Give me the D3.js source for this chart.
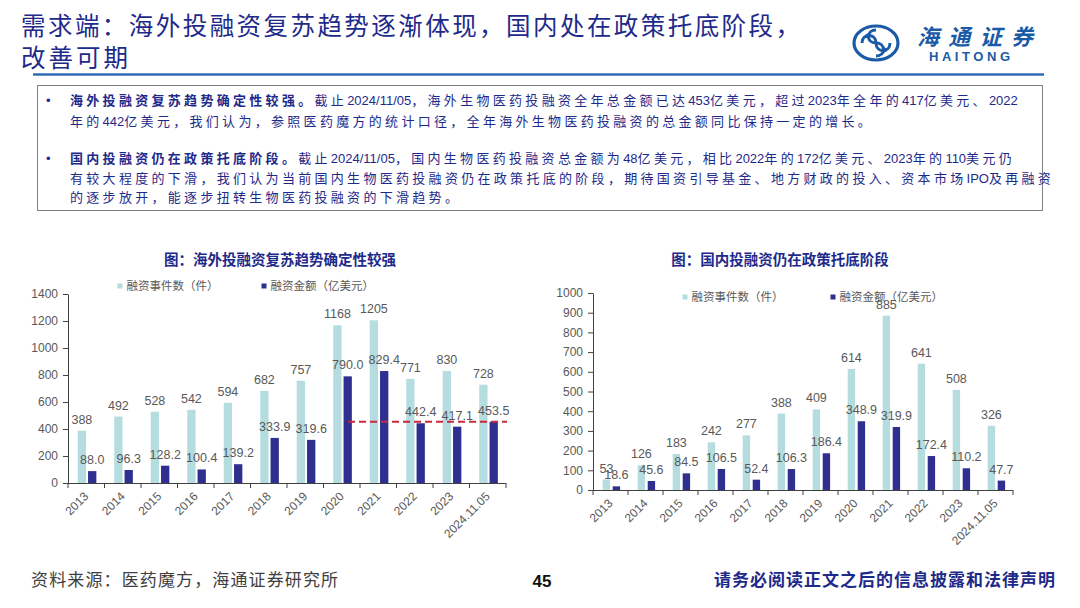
<!DOCTYPE html>
<html><head><meta charset="utf-8">
<script src="https://cdn.jsdelivr.net/npm/d3@7/dist/d3.min.js"></script>
<style>
html,body{margin:0;padding:0;background:#fff;}
svg{display:block;}
</style></head>
<body><svg id="c" width="1080" height="608"></svg>
<script>
const categories = ["2013","2014","2015","2016","2017","2018","2019","2020","2021","2022","2023","2024.11.05"];
const overseasCounts = [388,492,528,542,594,682,757,1168,1205,771,830,728];
const overseasAmounts = [88.0,96.3,128.2,100.4,139.2,333.9,319.6,790.0,829.4,442.4,417.1,453.5];
const domesticCounts = [53,126,183,242,277,388,409,614,885,641,508,326];
const domesticAmounts = [18.6,45.6,84.5,106.5,52.4,106.3,186.4,348.9,319.9,172.4,110.2,47.7];
const overseasTicks = [0,200,400,600,800,1000,1200,1400];
const domesticTicks = [0,100,200,300,400,500,600,700,800,900,1000];
const seriesNames = ["融资事件数（件）","融资金额（亿美元）"];
const refValue = 453.5;

const LIGHT = "#B5DCDF", DARK = "#2E2F8F", NAVY = "#1E2A8A", GREY = "#595959";
const FONT = "'Liberation Sans', Arial, 'Noto Sans CJK SC', sans-serif";
const svg = d3.select("#c");

// ---- header ----
svg.append("text").attr("x",21).attr("y",35).attr("font-family","'Noto Sans CJK SC', sans-serif")
  .attr("font-size",24.5).attr("fill",NAVY).attr("textLength",779).attr("lengthAdjust","spacing")
  .text("需求端：海外投融资复苏趋势逐渐体现，国内处在政策托底阶段，");
svg.append("text").attr("x",21).attr("y",67).attr("font-family","'Noto Sans CJK SC', sans-serif")
  .attr("font-size",24.5).attr("fill",NAVY).attr("letter-spacing",3).text("改善可期");
svg.append("line").attr("x1",33).attr("x2",1044).attr("y1",74.5).attr("y2",74.5)
  .attr("stroke","#2F6DB2").attr("stroke-width",2.5);

// logo
const logo = svg.append("g").attr("stroke","#1B5AA6").attr("fill","none");
logo.append("ellipse").attr("cx",876).attr("cy",43).attr("rx",22).attr("ry",17).attr("stroke-width",3.2);
logo.append("path").attr("d","M862,43 C862,33 876,33 876,43 C876,53 890,53 890,43").attr("stroke-width",3);
logo.append("path").attr("d","M876,30 C866,30 866,43 876,43 C886,43 886,56 876,56").attr("stroke-width",3);
logo.append("circle").attr("cx",868).attr("cy",36).attr("r",2.5).attr("fill","#1B5AA6").attr("stroke","none");
logo.append("circle").attr("cx",884).attr("cy",50).attr("r",2.5).attr("fill","#1B5AA6").attr("stroke","none");
svg.append("text").attr("x",917).attr("y",45).attr("font-family","'Noto Sans CJK SC', sans-serif")
  .attr("font-size",22).attr("font-style","italic").attr("font-weight",700).attr("fill","#1B5AA6")
  .attr("textLength",116).text("海通证券");
svg.append("text").attr("x",929).attr("y",61).attr("font-family",FONT).attr("font-size",13)
  .attr("font-weight",700).attr("fill","#1B5AA6").attr("textLength",81).text("HAITONG");

// ---- text box ----
svg.append("rect").attr("x",37.5).attr("y",85.5).attr("width",1005).attr("height",125)
  .attr("fill","none").attr("stroke","#808080").attr("stroke-width",1);
const bodyLines = [
  {y:105, bold:"海外投融资复苏趋势确定性较强。", rest:"截止2024/11/05，海外生物医药投融资全年总金额已达453亿美元，超过2023年全年的417亿美元、2022", bullet:true},
  {y:126, bold:"", rest:"年的442亿美元，我们认为，参照医药魔方的统计口径，全年海外生物医药投融资的总金额同比保持一定的增长。"},
  {y:163, bold:"国内投融资仍在政策托底阶段。", rest:"截止2024/11/05，国内生物医药投融资总金额为48亿美元，相比2022年的172亿美元、2023年的110美元仍", bullet:true},
  {y:183, bold:"", rest:"有较大程度的下滑，我们认为当前国内生物医药投融资仍在政策托底的阶段，期待国资引导基金、地方财政的投入、资本市场IPO及再融资"},
  {y:202, bold:"", rest:"的逐步放开，能逐步扭转生物医药投融资的下滑趋势。"}
];
function runs(s){ return s.match(/[\x00-\x7F]+|[^\x00-\x7F]+/g) || []; }
bodyLines.forEach(l=>{
  if(l.bullet) svg.append("text").attr("x",46).attr("y",l.y).attr("font-family",FONT).attr("font-size",13).attr("fill",NAVY).text("•");
  const t = svg.append("text").attr("x",70).attr("y",l.y).attr("font-family",FONT).attr("font-size",13).attr("fill",NAVY);
  [[l.bold,700],[l.rest,400]].forEach(([s,w])=>{
    runs(s).forEach(r=>{
      const ascii = /^[\x00-\x7F]+$/.test(r);
      t.append("tspan").attr("font-weight",w).attr("letter-spacing",ascii?0:3.3).text(r);
    });
  });
});

// ---- charts ----
function drawChart(cfg){
  const g = svg.append("g");
  const x = d3.scaleBand().domain(categories).range([cfg.x0,cfg.x1]);
  const y = d3.scaleLinear().domain([0,cfg.max]).range([cfg.y0,cfg.yTop]);
  const bw = cfg.bw, gap = cfg.gap, off = cfg.off;
  const cx = c => x(c)+x.bandwidth()/2+off;

  g.append("text").attr("x",cfg.titleX).attr("y",cfg.titleY).attr("text-anchor","middle")
    .attr("font-family","'Noto Sans CJK SC', sans-serif").attr("font-size",14.5).attr("font-weight",700)
    .attr("fill",NAVY).text(cfg.title);

  const ya = g.append("g").attr("transform",`translate(${cfg.x0},0)`)
    .call(d3.axisLeft(y).tickValues(cfg.ticks).tickSize(5).tickSizeOuter(0).tickPadding(5).tickFormat(d3.format("d")));
  ya.selectAll("path,line").attr("stroke","#404040");
  ya.selectAll("text").attr("font-family",FONT).attr("font-size",12).attr("fill",GREY);

  g.selectAll(".bl").data(categories).join("rect")
    .attr("x",c=>cx(c)-gap/2-bw).attr("width",bw)
    .attr("y",(c,i)=>y(cfg.counts[i])).attr("height",(c,i)=>cfg.y0-y(cfg.counts[i])).attr("fill",LIGHT);
  g.selectAll(".bd").data(categories).join("rect")
    .attr("x",c=>cx(c)+gap/2).attr("width",bw)
    .attr("y",(c,i)=>y(cfg.amounts[i])).attr("height",(c,i)=>cfg.y0-y(cfg.amounts[i])).attr("fill",DARK);

  g.append("line").attr("x1",cfg.x0).attr("x2",cfg.x1).attr("y1",cfg.y0+0.5).attr("y2",cfg.y0+0.5).attr("stroke","#404040");
  const bounds = categories.map(c=>x(c)).concat([cfg.x1]);
  g.selectAll(".xt").data(bounds).join("line")
    .attr("x1",d=>d).attr("x2",d=>d).attr("y1",cfg.y0).attr("y2",cfg.y0+5).attr("stroke","#404040");
  g.selectAll(".xl").data(categories).join("text")
    .attr("transform",c=>`translate(${x(c)+x.bandwidth()/2+3},${cfg.y0+14}) rotate(-45)`)
    .attr("text-anchor","end").attr("font-family",FONT).attr("font-size",12).attr("fill",GREY).text(c=>c);

  if(cfg.ref){
    g.append("line").attr("x1",cx("2020")+5.5).attr("x2",cfg.x1+1)
      .attr("y1",y(refValue)).attr("y2",y(refValue)).attr("stroke","#C8283C").attr("stroke-width",2)
      .attr("stroke-dasharray","7,4");
  }

  g.selectAll(".ll").data(categories).join("text")
    .attr("x",c=>cx(c)-gap/2-bw/2).attr("y",(c,i)=>y(cfg.counts[i])-7).attr("text-anchor","middle")
    .attr("font-family",FONT).attr("font-size",12.5).attr("fill",GREY).text((c,i)=>cfg.counts[i]);
  g.selectAll(".dl").data(categories).join("text")
    .attr("x",c=>cx(c)+gap/2+bw/2).attr("y",(c,i)=>y(cfg.amounts[i])-7).attr("text-anchor","middle")
    .attr("font-family",FONT).attr("font-size",12.5).attr("fill",GREY).text((c,i)=>cfg.amounts[i].toFixed(1));

  const lg = g.append("g").attr("font-family","'Noto Sans CJK SC', sans-serif").attr("font-size",11.5).attr("fill",GREY);
  lg.append("rect").attr("x",cfg.leg[0]).attr("y",cfg.legY-2.5).attr("width",5).attr("height",5).attr("fill",LIGHT);
  lg.append("text").attr("x",cfg.leg[0]+9).attr("y",cfg.legY+4).text(seriesNames[0]);
  lg.append("rect").attr("x",cfg.leg[1]).attr("y",cfg.legY-2.5).attr("width",5).attr("height",5).attr("fill",DARK);
  lg.append("text").attr("x",cfg.leg[1]+9).attr("y",cfg.legY+4).text(seriesNames[1]);
}

drawChart({x0:68,x1:506,y0:483,yTop:294,max:1400,ticks:overseasTicks,counts:overseasCounts,amounts:overseasAmounts,
  bw:8.3,gap:2,off:0.8,title:"图：海外投融资复苏趋势确定性较强",titleX:280,titleY:265,leg:[117.5,261.5],legY:286,ref:true});
drawChart({x0:593,x1:1013,y0:490,yTop:293,max:1000,ticks:domesticTicks,counts:domesticCounts,amounts:domesticAmounts,
  bw:7.4,gap:2.6,off:0.9,title:"图：国内投融资仍在政策托底阶段",titleX:780,titleY:265,leg:[682.5,830.5],legY:297,ref:false});

// ---- footer ----
svg.append("text").attr("x",31).attr("y",586).attr("font-family","'Noto Sans CJK SC', sans-serif")
  .attr("font-size",17).attr("fill","#404040").attr("textLength",307).text("资料来源：医药魔方，海通证券研究所");
svg.append("text").attr("x",542).attr("y",587).attr("text-anchor","middle").attr("font-family",FONT)
  .attr("font-size",17).attr("font-weight",700).attr("fill","#111").text("45");
svg.append("text").attr("x",1055).attr("y",586).attr("text-anchor","end").attr("font-family","'Noto Sans CJK SC', sans-serif")
  .attr("font-size",17).attr("font-weight",700).attr("fill",NAVY).attr("textLength",341).text("请务必阅读正文之后的信息披露和法律声明");
</script></body></html>
